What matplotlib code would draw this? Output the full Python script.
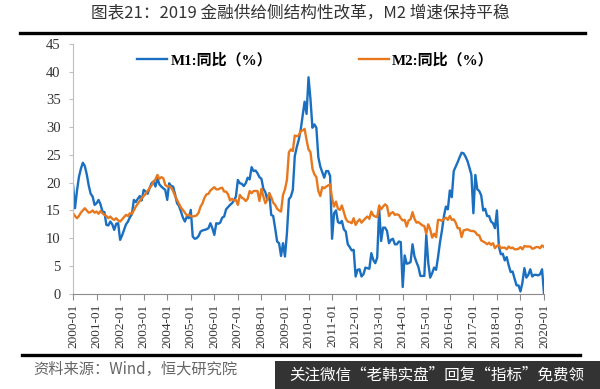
import matplotlib
matplotlib.use("Agg")
import matplotlib.pyplot as plt
from matplotlib.lines import Line2D
from matplotlib.patches import Rectangle
import numpy as np

# monthly year-on-year growth, 2000-01 .. 2020-01 (%)
m1_yoy = [
    19.6, 15.4, 18.5, 21.0, 22.5, 23.6, 23.0, 21.5, 19.5, 18.0, 17.5, 16.0,   # 2000
    16.3, 16.9, 16.1, 14.8, 14.7, 12.4, 12.3, 13.0, 12.5, 11.5, 12.6, 12.7,   # 2001
    9.7, 10.5, 11.5, 12.5, 13.0, 13.8, 14.3, 16.9, 16.5, 17.1, 17.6, 16.8,    # 2002
    18.7, 18.4, 18.0, 19.0, 19.9, 20.2, 19.3, 20.8, 19.7, 19.3, 19.0, 18.7,   # 2003
    16.9, 19.9, 19.4, 19.3, 17.9, 16.3, 15.8, 14.8, 13.7, 13.0, 13.9, 13.6,   # 2004
    15.1, 10.3, 9.9, 10.0, 10.4, 11.2, 11.4, 11.5, 11.6, 11.8, 12.7, 11.8,    # 2005
    10.6, 12.7, 12.6, 12.8, 13.7, 13.9, 15.2, 15.6, 16.0, 16.3, 16.8, 17.5,   # 2006
    20.5, 19.9, 19.8, 19.4, 19.9, 20.9, 20.6, 22.8, 22.1, 22.2, 21.7, 21.0,   # 2007
    20.7, 18.9, 18.3, 16.9, 18.1, 14.2, 14.0, 11.8, 9.4, 9.1, 6.8, 9.1,       # 2008
    6.7, 10.9, 17.0, 17.5, 18.7, 24.8, 26.4, 27.7, 29.5, 32.0, 34.6, 32.4,    # 2009
    39.0, 35.0, 29.9, 30.5, 29.9, 24.6, 22.9, 21.9, 20.9, 22.1, 22.1, 21.2,   # 2010
    9.9, 14.5, 15.0, 12.9, 12.7, 13.1, 11.6, 11.2, 8.9, 8.4, 7.8, 7.9,        # 2011
    3.1, 4.3, 4.4, 3.1, 3.5, 4.7, 4.6, 4.5, 7.3, 6.1, 5.5, 6.5,               # 2012
    15.3, 9.5, 11.9, 11.9, 11.3, 9.1, 9.7, 9.9, 8.9, 8.9, 9.4, 9.3,           # 2013
    1.2, 6.9, 5.4, 5.5, 5.7, 8.9, 6.7, 5.7, 4.8, 3.2, 3.2, 3.2,               # 2014
    10.6, 5.6, 2.9, 3.7, 4.7, 4.3, 6.6, 9.3, 11.4, 14.0, 15.7, 15.2,          # 2015
    18.6, 17.4, 22.1, 22.9, 23.7, 24.6, 25.4, 25.3, 24.7, 23.9, 22.7, 21.4,   # 2016
    14.5, 21.4, 18.8, 18.5, 17.7, 15.0, 15.3, 14.0, 14.0, 13.0, 12.7, 11.8,   # 2017
    15.0, 8.5, 7.1, 7.2, 6.0, 6.6, 5.1, 3.9, 4.0, 2.7, 1.5, 1.5,              # 2018
    0.4, 2.0, 4.6, 2.9, 3.4, 4.4, 3.1, 3.4, 3.4, 3.3, 3.5, 4.4,               # 2019
    0.0,                                                                      # 2020
]

m2_yoy = [
    14.5, 14.0, 13.6, 14.0, 14.6, 15.0, 15.4, 15.0, 14.6, 14.7, 15.0, 14.6,   # 2000
    14.8, 14.4, 14.9, 14.5, 14.2, 14.0, 13.6, 13.9, 13.5, 13.3, 13.6, 13.2,   # 2001
    13.0, 13.4, 13.8, 14.2, 14.0, 14.5, 14.4, 15.0, 15.7, 16.2, 16.7, 17.2,   # 2002
    17.6, 18.0, 18.5, 19.0, 19.5, 20.2, 20.6, 21.4, 20.7, 21.0, 20.8, 19.6,   # 2003
    19.3, 19.4, 19.1, 18.5, 17.6, 16.9, 16.2, 15.5, 15.1, 14.6, 14.1, 14.2,   # 2004
    14.0, 13.9, 14.0, 14.1, 14.6, 15.7, 16.3, 17.3, 17.9, 18.0, 18.6, 18.9,   # 2005
    19.2, 18.8, 18.8, 19.0, 19.1, 18.4, 18.4, 17.9, 16.8, 17.1, 16.8, 16.9,   # 2006
    16.0, 17.8, 17.3, 17.1, 16.7, 17.1, 18.5, 18.1, 18.5, 18.5, 18.5, 16.7,   # 2007
    18.9, 17.5, 16.3, 16.9, 18.1, 17.4, 16.4, 16.0, 15.3, 15.0, 14.8, 17.8,   # 2008
    18.8, 20.5, 25.5, 26.0, 25.7, 28.5, 28.4, 28.5, 29.3, 29.4, 29.7, 27.7,   # 2009
    26.0, 25.5, 22.5, 21.5, 21.0, 18.5, 17.6, 19.2, 19.0, 19.3, 19.5, 19.7,   # 2010
    17.2, 15.7, 16.6, 15.3, 15.1, 15.9, 14.7, 13.5, 13.0, 12.9, 12.7, 13.6,   # 2011
    12.4, 13.0, 13.4, 12.8, 13.2, 13.6, 13.9, 13.5, 14.8, 14.1, 13.9, 13.8,   # 2012
    15.9, 15.2, 15.7, 16.1, 15.8, 14.0, 14.5, 14.7, 14.2, 14.3, 14.2, 13.6,   # 2013
    13.2, 13.3, 12.1, 13.2, 13.4, 14.7, 13.5, 12.8, 12.9, 12.6, 12.3, 12.2,   # 2014
    10.8, 12.5, 11.6, 10.1, 10.8, 10.2, 13.3, 13.3, 13.1, 13.5, 13.7, 13.3,   # 2015
    14.0, 13.3, 13.4, 12.8, 11.8, 11.8, 10.2, 11.4, 11.5, 11.6, 11.4, 11.3,   # 2016
    11.3, 11.1, 10.6, 10.5, 9.6, 9.4, 9.2, 8.9, 9.2, 8.8, 9.1, 8.2,           # 2017
    8.6, 8.8, 8.2, 8.3, 8.3, 8.0, 8.5, 8.2, 8.3, 8.0, 8.0, 8.1,               # 2018
    8.4, 8.0, 8.6, 8.5, 8.5, 8.5, 8.1, 8.2, 8.4, 8.4, 8.2, 8.7,               # 2019
    8.4,                                                                      # 2020
]

years = list(range(2000, 2021))
tick_labels = [f"{y}-01" for y in years]

serif = ["Liberation Serif", "Noto Sans CJK SC"]
cjk = ["Noto Sans CJK SC", "DejaVu Sans"]
blue = "#1a6fc0"
orange = "#e8781e"

fig = plt.figure(figsize=(6.0, 3.89), dpi=100)
ax = fig.add_axes([0.1217, 0.245, 0.785, 0.642])

x = np.arange(len(m1_yoy))
ax.plot(x, m1_yoy, color=blue, lw=1.7, label="M1:同比（%）")
ax.plot(x, m2_yoy, color=orange, lw=1.7, label="M2:同比（%）")

ax.set_xlim(0, 240)
ax.set_ylim(0, 45)
ax.set_yticks(range(0, 46, 5))
ax.set_xticks(np.arange(0, 241, 12))
ax.set_xticklabels(tick_labels, rotation=90, family=serif, fontsize=9.5)
for lab in ax.get_yticklabels():
    lab.set_family(serif)
    lab.set_fontsize(10.5)

for s in ("top", "right"):
    ax.spines[s].set_visible(False)
ax.spines["left"].set_color("#bfbfbf")
ax.spines["bottom"].set_color("#8c8c8c")
ax.tick_params(axis="y", length=3, color="#bfbfbf", pad=6, labelcolor="#333333")
ax.tick_params(axis="x", length=4, color="#8c8c8c", pad=3, labelcolor="#333333")

ax.legend(ncol=2, loc="upper center", bbox_to_anchor=(0.515, 1.02),
          frameon=False, handlelength=2.0, handletextpad=0.2,
          columnspacing=5.8, prop={"family": serif, "weight": "bold", "size": 10.8})

# title and rules
fig.text(0.5, 0.968, "图表21：2019 金融供给侧结构性改革，M2 增速保持平稳",
         ha="center", va="center", family=cjk, fontsize=12.0, color="#333333")
fig.add_artist(Line2D([0.033, 0.975], [0.915, 0.915], color="black", lw=2.4))
fig.add_artist(Line2D([0.036, 0.967], [0.087, 0.087], color="black", lw=2.4))
fig.text(0.055, 0.049, "资料来源：Wind，恒大研究院", ha="left", va="center",
         family=cjk, fontsize=11, style="italic", color="#666666")

# watermark box
fig.add_artist(Rectangle((0.458, 0.0), 0.542, 0.072, transform=fig.transFigure,
                         fc="#333333", ec="none"))
fig.text(0.728, 0.036, "关注微信“老韩实盘”回复“指标”免费领", ha="center", va="center",
         family=cjk, fontsize=11.2, color="white")

fig.savefig("out.png", dpi=100)
